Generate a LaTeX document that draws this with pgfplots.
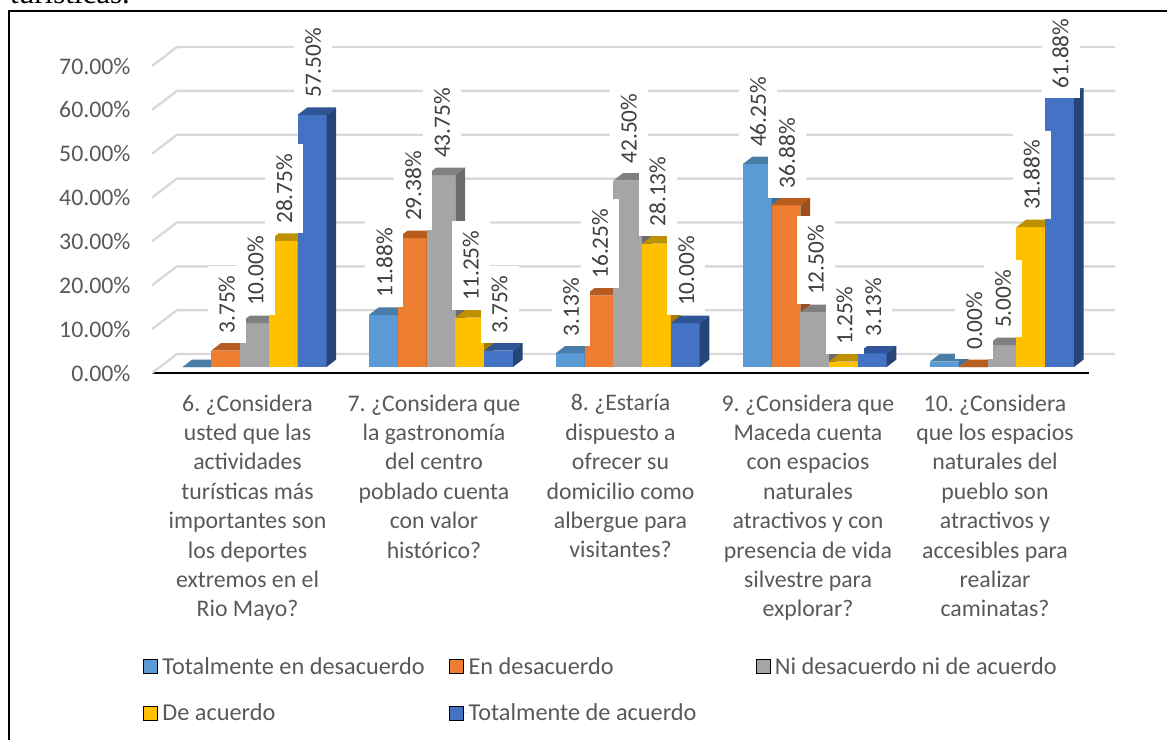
\documentclass[border=0pt]{standalone}
\usepackage{fontspec}
\setmainfont{Carlito}
\newfontfamily\serifx{Liberation Serif}
\usepackage{pgfplots}
\pgfplotsset{compat=1.18}
\definecolor{f1}{HTML}{5B9BD5}\definecolor{t1}{HTML}{4A7CA8}\definecolor{d1}{HTML}{3F6E96}
\definecolor{f2}{HTML}{ED7D31}\definecolor{t2}{HTML}{B85D20}\definecolor{d2}{HTML}{9E4F1B}
\definecolor{f3}{HTML}{A5A5A5}\definecolor{t3}{HTML}{808080}\definecolor{d3}{HTML}{6C6C6C}
\definecolor{f4}{HTML}{FFC000}\definecolor{t4}{HTML}{BF9000}\definecolor{d4}{HTML}{A67C00}
\definecolor{f5}{HTML}{4472C4}\definecolor{t5}{HTML}{2F5597}\definecolor{d5}{HTML}{264478}
\definecolor{gridc}{HTML}{D9D9D9}
\definecolor{txt}{HTML}{595959}
\definecolor{lab}{HTML}{404040}
\newcommand{\bw}{28.8}
\newcommand{\fs}{\fontsize{23.8}{29.4}\selectfont\frenchspacing}
\newcommand{\lent}[1]{\makebox[282pt][l]{#1}}
% one 3-D bar: left x, value, series number
\newcommand{\onebar}[3]{%
  \addplot[fill=f#3,draw=none,forget plot] coordinates {(#1,1.37)({#1+\bw},1.37)({#1+\bw},{#2+1.37})(#1,{#2+1.37})} --cycle;
  \addplot[fill=t#3,draw=none,forget plot] coordinates {(#1,{#2+1.37})({#1+\bw},{#2+1.37})({#1+\bw+9.7},{#2+3.08})({#1+9.7},{#2+3.08})} --cycle;
  \addplot[fill=d#3,draw=none,forget plot] coordinates {({#1+\bw},1.37)({#1+\bw+9.7},3.08)({#1+\bw+9.7},{#2+3.08})({#1+\bw},{#2+1.37})} --cycle;
}
\newcommand{\groupbars}[6]{%
  \onebar{#1}{#2}{1}
  \onebar{\fpeval{#1+\bw}}{#3}{2}
  \onebar{\fpeval{#1+2*\bw}}{#4}{3}
  \onebar{\fpeval{#1+3*\bw}}{#5}{4}
  \onebar{\fpeval{#1+4*\bw}}{#6}{5}
}
% group left x, series index 0..4, value, downward shift of the label in px
\newcommand{\vlabs}[4]{%
  \node[rotate=90,anchor=west,fill=white,text=lab,inner xsep=9.5pt,inner ysep=0pt,minimum height=38pt,font=\fontsize{23.3}{28}\selectfont,xshift=-#4pt]
    at (axis cs:{#1+(#2+0.5)*\bw+1},{#3+3.08}) {\pgfmathprintnumber[fixed,fixed zerofill,precision=2]{#3}\%};
}
\newcommand{\vlab}[3]{\vlabs{#1}{#2}{#3}{0}}
\begin{document}
\begin{tikzpicture}[x=1pt,y=1pt]
\useasboundingbox (0,-740) rectangle (1167,0);
\node[anchor=base west,inner sep=0pt,font=\serifx\fontsize{31}{34}\selectfont] at (10,-3) {turísticas.};
\begin{axis}[
  at={(152pt,-373pt)},anchor=south west,
  scale only axis,width=937pt,height=307pt,
  xmin=152,xmax=1089,ymin=0,ymax=70,
  clip=false,
  axis x line=bottom,axis y line=left,
  x axis line style={black,line width=2.6pt,-},
  y axis line style={draw=none},
  major tick length=0pt,
  ytick={0,10,...,70},
  yticklabel={\pgfmathprintnumber[fixed,fixed zerofill,precision=2]{\tick}\%},
  /pgf/number format/assume math mode=true,
  yticklabel style={text=txt,font=\fs,anchor=east,xshift=-18pt},
  xtick={247.5,434,620.5,808,995},
  xticklabels={
    {6. ¿Considera\\usted que las\\actividades\\turísticas más\\importantes son\\los deportes\\extremos en el\\Rio Mayo?},
    {7. ¿Considera que\\la gastronomía\\del centro\\poblado cuenta\\con valor\\histórico?},
    {8. ¿Estaría\\dispuesto a\\ofrecer su\\domicilio como\\albergue para\\visitantes?},
    {9. ¿Considera que\\Maceda cuenta\\con espacios\\naturales\\atractivos y con\\presencia de vida\\silvestre para\\explorar?},
    {10. ¿Considera\\que los espacios\\naturales del\\pueblo son\\atractivos y\\accesibles para\\realizar\\caminatas?}},
  xticklabel style={align=center,text=txt,font=\fs,anchor=north,yshift=-18pt},
  legend image code/.code={\fill[#1] (0pt,-7pt) rectangle (14pt,7pt);\path[draw=none] (0pt,0pt) -- (19pt,0pt);},
  legend columns=3,
  legend cell align=left,
  legend style={at={(-0.0096,-0.925)},anchor=north west,draw=none,fill=none,
    font=\fontsize{24.3}{29.4}\selectfont\frenchspacing,text=txt,inner sep=0pt,
    /tikz/every even column/.append style={column sep=5pt},
    /tikz/every odd column/.append style={column sep=0pt},
    row sep=28pt,
    nodes={inner sep=0pt}},
]
\addlegendimage{fill=f1}\addlegendentry{\lent{Totalmente en desacuerdo}}
\addlegendimage{fill=f2}\addlegendentry{\lent{En desacuerdo}}
\addlegendimage{fill=f3}\addlegendentry{\lent{Ni desacuerdo ni de acuerdo}}
\addlegendimage{fill=f4}\addlegendentry{\lent{De acuerdo}}
\addlegendimage{fill=f5}\addlegendentry{\lent{Totalmente de acuerdo}}

\pgfplotsinvokeforeach{0,10,...,70}{
  \addplot[gridc,line width=2.4pt,forget plot] coordinates {(152,#1)(177,{#1+4.33})(1115,{#1+4.33})};
}
\groupbars{182.5}{0}{3.75}{10}{28.75}{57.5}
\groupbars{369}{11.88}{29.38}{43.75}{11.25}{3.75}
\groupbars{555.7}{3.13}{16.25}{42.5}{28.13}{10}
\groupbars{742.7}{46.25}{36.88}{12.5}{1.25}{3.13}
\groupbars{930}{1.25}{0}{5}{31.88}{61.88}

\vlab{182.5}{1}{3.75}\vlab{182.5}{2}{10}\vlab{182.5}{3}{28.75}\vlab{182.5}{4}{57.5}
\vlab{369}{0}{11.88}\vlab{369}{1}{29.38}\vlab{369}{2}{43.75}\vlab{369}{3}{11.25}\vlab{369}{4}{3.75}
\vlab{555.7}{0}{3.13}\vlab{555.7}{1}{16.25}\vlab{555.7}{2}{42.5}\vlab{555.7}{3}{28.13}\vlab{555.7}{4}{10}
\vlab{742.7}{0}{46.25}\vlab{742.7}{1}{36.88}\vlab{742.7}{2}{12.5}\vlab{742.7}{3}{1.25}\vlab{742.7}{4}{3.13}
\vlab{930}{1}{0}\vlab{930}{2}{5}\vlab{930}{3}{31.88}\vlabs{930}{4}{61.88}{10}
\end{axis}
\draw[line width=1.6pt] (9,-740) -- (9,-11) -- (1167,-11);
\end{tikzpicture}
\end{document}
